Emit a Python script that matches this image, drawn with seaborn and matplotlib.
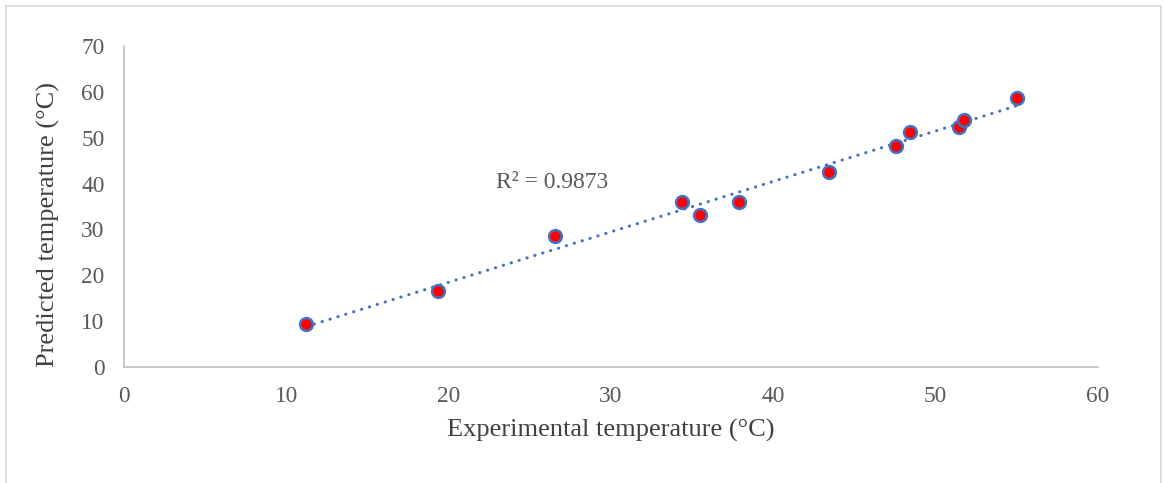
import matplotlib
matplotlib.use("Agg")
import matplotlib.pyplot as plt
import seaborn as sns
import pandas as pd
from matplotlib.patches import Rectangle

experimental = [11.23, 19.32, 26.55, 34.37, 35.48, 37.90, 43.45, 47.56, 48.40, 51.44, 51.76, 55.03]
predicted = [9.38, 16.57, 28.63, 35.92, 33.08, 35.98, 42.52, 48.19, 51.18, 52.40, 53.93, 58.66]
x_ticks = [0, 10, 20, 30, 40, 50, 60]
y_ticks = [0, 10, 20, 30, 40, 50, 60, 70]
r2_label = "R² = 0.9873"
x_label = "Experimental temperature (°C)"
y_label = "Predicted temperature (°C)"

df = pd.DataFrame({"exp": experimental, "pred": predicted})

sns.set_style("white")
plt.rcParams["font.family"] = ["Liberation Serif", "DejaVu Serif"]

W, H = 1165, 483
fig = plt.figure(figsize=(W / 100, H / 100), dpi=100)
ax = fig.add_axes([124 / W, 1 - 367 / H, (1098 - 124) / W, (367 - 46) / H])

blue = "#4472C4"
sns.regplot(data=df, x="exp", y="pred", ax=ax, scatter=False, ci=None, truncate=True,
            line_kws=dict(color=blue, lw=2.2, dashes=(0.1, 2.6), dash_capstyle="round"))
sns.scatterplot(data=df, x="exp", y="pred", ax=ax, color="red", edgecolor=blue,
                linewidth=1.8, s=85, zorder=3)

ax.set_xlim(0, 60)
ax.set_ylim(0, 70)
ax.set_xticks(x_ticks)
ax.set_yticks(y_ticks)
ax.tick_params(length=0, labelsize=16.8, labelcolor="#595959", pad=14)
for s in ["top", "right"]:
    ax.spines[s].set_visible(False)
for s in ["left", "bottom"]:
    ax.spines[s].set_color("#BFBFBF")
    ax.spines[s].set_linewidth(1.2)

ax.set_xlabel(x_label, fontsize=19, color="#404040")
ax.set_ylabel(y_label, fontsize=19, color="#404040")
ax.xaxis.set_label_coords(0.5, -0.163)
ax.yaxis.set_label_coords(-0.066, 0.445)

ax.text(496 / W, 1 - 188 / H, r2_label, transform=fig.transFigure, fontsize=17,
        color="#595959", ha="left", va="baseline")

fig.patches.append(Rectangle((6 / W, -0.05), (1161 - 6) / W, 1 - 6 / H + 0.05,
                             transform=fig.transFigure, fill=False,
                             edgecolor="#D9D9D9", linewidth=1.2))

fig.savefig("out.png", dpi=100)
